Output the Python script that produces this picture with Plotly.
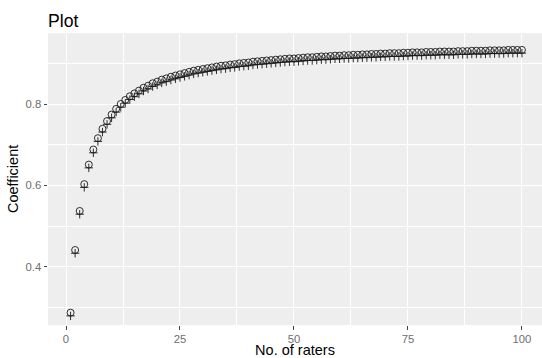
import plotly.graph_objects as go

raters = list(range(1, 101))

coef_circle = [
    0.287, 0.441, 0.537, 0.603, 0.651, 0.688, 0.716, 0.739, 0.758, 0.774,
    0.788, 0.800, 0.810, 0.819, 0.826, 0.833, 0.840, 0.845, 0.851, 0.855,
    0.860, 0.863, 0.867, 0.870, 0.873, 0.876, 0.879, 0.882, 0.884, 0.886,
    0.888, 0.890, 0.892, 0.894, 0.895, 0.897, 0.898, 0.900, 0.901, 0.902,
    0.904, 0.905, 0.906, 0.907, 0.908, 0.909, 0.910, 0.911, 0.912, 0.912,
    0.913, 0.914, 0.915, 0.915, 0.916, 0.917, 0.917, 0.918, 0.919, 0.919,
    0.920, 0.920, 0.921, 0.921, 0.922, 0.922, 0.923, 0.923, 0.924, 0.924,
    0.925, 0.925, 0.925, 0.926, 0.926, 0.927, 0.927, 0.927, 0.928, 0.928,
    0.928, 0.929, 0.929, 0.929, 0.929, 0.930, 0.930, 0.930, 0.931, 0.931,
    0.931, 0.931, 0.932, 0.932, 0.932, 0.932, 0.933, 0.933, 0.933, 0.933,
]

coef_plus = [
    0.279, 0.433, 0.529, 0.595, 0.643, 0.680, 0.708, 0.731, 0.750, 0.766,
    0.780, 0.792, 0.802, 0.811, 0.818, 0.825, 0.832, 0.837, 0.843, 0.847,
    0.852, 0.855, 0.859, 0.862, 0.865, 0.868, 0.871, 0.874, 0.876, 0.878,
    0.880, 0.882, 0.884, 0.886, 0.887, 0.889, 0.890, 0.892, 0.893, 0.894,
    0.896, 0.897, 0.898, 0.899, 0.900, 0.901, 0.902, 0.903, 0.904, 0.904,
    0.905, 0.906, 0.907, 0.907, 0.908, 0.909, 0.909, 0.910, 0.911, 0.911,
    0.912, 0.912, 0.913, 0.913, 0.914, 0.914, 0.915, 0.915, 0.916, 0.916,
    0.917, 0.917, 0.917, 0.918, 0.918, 0.919, 0.919, 0.919, 0.920, 0.920,
    0.920, 0.921, 0.921, 0.921, 0.921, 0.922, 0.922, 0.922, 0.923, 0.923,
    0.923, 0.923, 0.924, 0.924, 0.924, 0.924, 0.925, 0.925, 0.925, 0.925,
]

x_ticks = [0, 25, 50, 75, 100]
y_ticks = [0.4, 0.6, 0.8]
y_tick_labels = ["0.4", "0.6", "0.8"]

FONT = "Liberation Sans, Arial, sans-serif"
MARK = "#1a1a1a"

fig = go.Figure()
fig.add_trace(go.Scatter(
    x=raters, y=coef_plus, mode="markers",
    marker=dict(symbol="cross-thin-open", size=6, color=MARK,
                line=dict(width=0.9, color=MARK)),
    showlegend=False, hoverinfo="skip",
))
fig.add_trace(go.Scatter(
    x=raters, y=coef_circle, mode="markers",
    marker=dict(symbol="circle-open", size=7, color=MARK,
                line=dict(width=0.9, color=MARK)),
    showlegend=False,
))

L, R, T, B = 48, 0, 33, 33
PW, PH = 542 - L - R, 358 - T - B

fig.update_layout(
    width=542, height=358,
    margin=dict(l=L, r=R, t=T, b=B, pad=0),
    paper_bgcolor="white",
    plot_bgcolor="#EEEEEE",
    font=dict(family=FONT, color="#666666", size=11.3),
    title=dict(text="Plot", x=0, xref="paper", xanchor="left",
               y=1 - 21 / 358, yref="container", yanchor="middle",
               font=dict(family=FONT, size=17.6, color="black")),
    annotations=[
        dict(text="Coefficient", xref="paper", yref="paper",
             x=-(L - 13) / PW, y=(325 - 179) / PH, textangle=-90,
             xanchor="center", yanchor="middle", showarrow=False,
             font=dict(family=FONT, size=14.5, color="black")),
    ],
)

fig.update_xaxes(
    range=[-3.95, 104.4], automargin=False,
    tickmode="array", tickvals=x_ticks, ticktext=[str(v) for v in x_ticks],
    ticks="outside", ticklen=3.5, tickwidth=1, tickcolor="#444444",
    tickfont=dict(family=FONT, size=11.3, color="#6e6e6e"),
    showgrid=True, gridcolor="white", gridwidth=1.1,
    minor=dict(tickmode="array", tickvals=[12.5, 37.5, 62.5, 87.5],
               showgrid=True, gridcolor="white", gridwidth=0.55, ticks=""),
    zeroline=False, showline=False,
    title=dict(text="No. of raters", standoff=1,
               font=dict(family=FONT, size=14.5, color="black")),
)

fig.update_yaxes(
    range=[0.2566, 0.9746], automargin=False,
    tickmode="array", tickvals=y_ticks, ticktext=y_tick_labels,
    ticks="outside", ticklen=3.5, tickwidth=1, tickcolor="#444444",
    tickfont=dict(family=FONT, size=11.3, color="#6e6e6e"),
    showgrid=True, gridcolor="white", gridwidth=1.1,
    minor=dict(tickmode="array", tickvals=[0.3, 0.5, 0.7, 0.9],
               showgrid=True, gridcolor="white", gridwidth=0.55, ticks=""),
    zeroline=False, showline=False,
)

fig.write_html(
    "out.html",
    config={"displayModeBar": False},
    post_script="document.body.style.margin='0';document.body.style.padding='0';",
)
